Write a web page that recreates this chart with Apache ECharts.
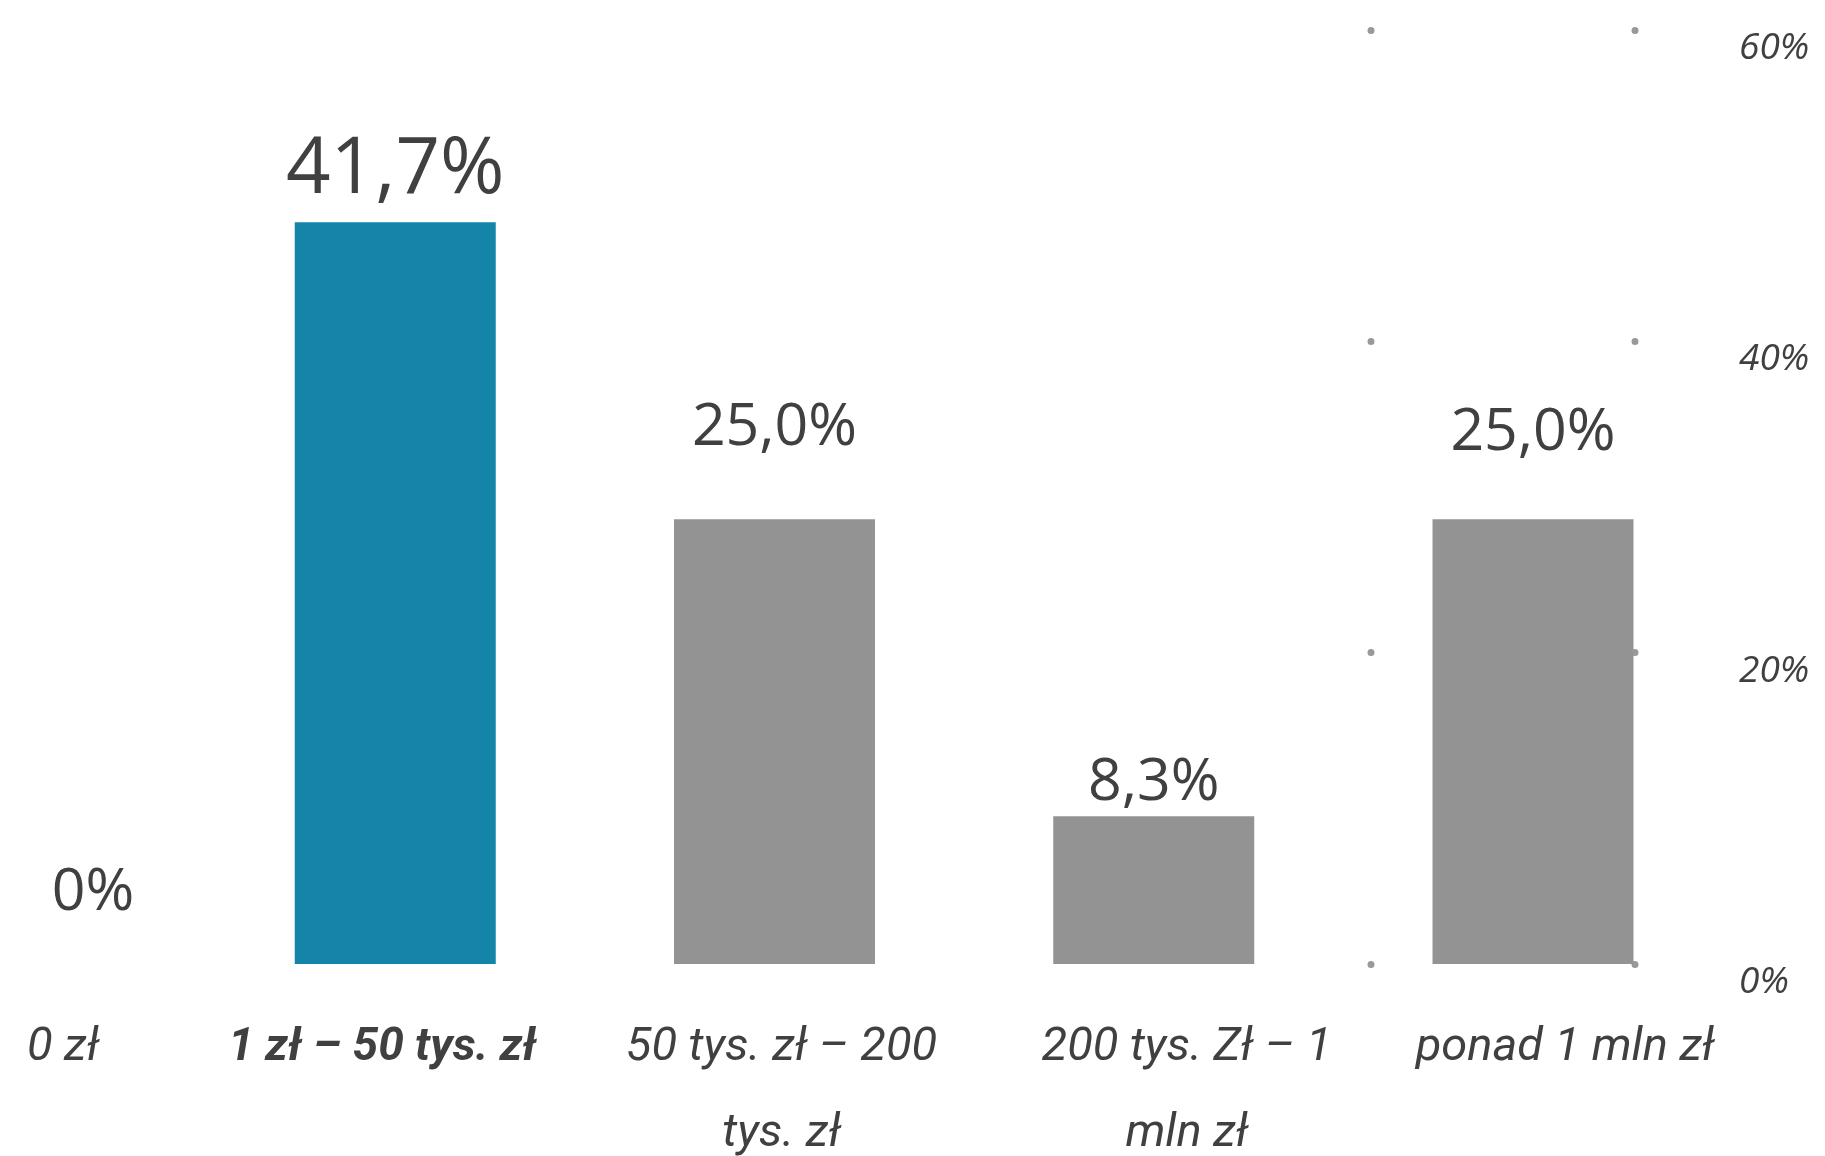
<!DOCTYPE html>
<html>
<head>
<meta charset="utf-8">
<script src="https://cdn.jsdelivr.net/npm/echarts@6/dist/echarts.min.js"></script>
<style>
html,body{margin:0;padding:0;background:#fff;}
#chart{width:1825px;height:1156px;}
</style>
</head>
<body>
<div id="chart"></div>
<script>
// ---- data ----
const categories = ['0 zł', '1 zł – 50 tys. zł', '50 tys. zł – 200\ntys. zł', '200 tys. Zł – 1\nmln zł', 'ponad 1 mln zł'];
const values = [0, 41.7, 25.0, 8.3, 25.0];
const highlightIndex = 1;
const axisTicks = [0, 20, 40, 60];

// ---- styles ----
const BLUE = '#1485A8';
const GRAY = '#939393';
const TEXT = '#404040';
const labelDistances = [41, 12, 62, 4, 57];
const labelOffsets = [[77, 0], [0, 0], [0, 0], [0, 0], [0, 0]];
const labelSizes = [59, 78, 59, 59, 59];
const catShift = [
  [0, 0, 0, 94], [0, 26, 0, 0], [0, 0, 0, 14], [0, 0, 0, 66], [0, 0, 0, 64]
];

const rich = {};
categories.forEach((c, i) => {
  rich['c' + i] = {
    fontFamily: 'Roboto',
    fontStyle: 'italic',
    fontWeight: i === highlightIndex ? 'bold' : 'normal',
    fontSize: i === highlightIndex ? 46 : 47,
    lineHeight: 86,
    color: TEXT,
    padding: catShift[i]
  };
});

const chart = echarts.init(document.getElementById('chart'), null, {renderer: 'canvas'});
chart.setOption({
  animation: false,
  backgroundColor: '#fff',
  grid: [
    {left: 16, right: 292, top: 30, bottom: 192, containLabel: false, outerBoundsMode: 'none'},
    {left: 1371, right: 189, top: 30, bottom: 192, containLabel: false, outerBoundsMode: 'none'}
  ],
  xAxis: [
    {
      type: 'category', gridIndex: 0, data: categories, boundaryGap: false,
      axisLine: {show: false}, axisTick: {show: false},
      axisLabel: {
        interval: 0, margin: 41,
        formatter: (v, i) => v.split('\n').map(l => '{c' + i + '|' + l + '}').join('\n'),
        rich: rich
      },
      splitLine: {show: false}
    },
    {type: 'value', gridIndex: 1, min: 0, max: 1, show: false}
  ],
  yAxis: [
    {type: 'value', gridIndex: 0, min: 0, max: 52.5, show: false},
    {
      type: 'value', gridIndex: 1, position: 'right', min: axisTicks[0], max: axisTicks[axisTicks.length - 1], interval: 20,
      axisLine: {show: false}, axisTick: {show: false},
      axisLabel: {
        margin: 103, align: 'left', verticalAlign: 'top',
        fontFamily: 'Open Sans', fontStyle: 'italic', fontSize: 37, color: TEXT,
        formatter: v => v + '%'
      },
      splitLine: {show: true, lineStyle: {color: '#999999', width: 7, type: [0, 264], cap: 'round'}}
    }
  ],
  series: [{
    type: 'bar', xAxisIndex: 0, yAxisIndex: 0, barWidth: 201,
    data: values.map((v, i) => ({
      value: v,
      itemStyle: {color: i === highlightIndex ? BLUE : GRAY},
      label: {
        show: true, position: 'top', distance: labelDistances[i], offset: labelOffsets[i],
        fontFamily: 'Open Sans', fontSize: labelSizes[i], color: TEXT,
        formatter: p => (p.value === 0 ? '0' : p.value.toFixed(1).replace('.', ',')) + '%'
      }
    }))
  }]
});
</script>
</body>
</html>
